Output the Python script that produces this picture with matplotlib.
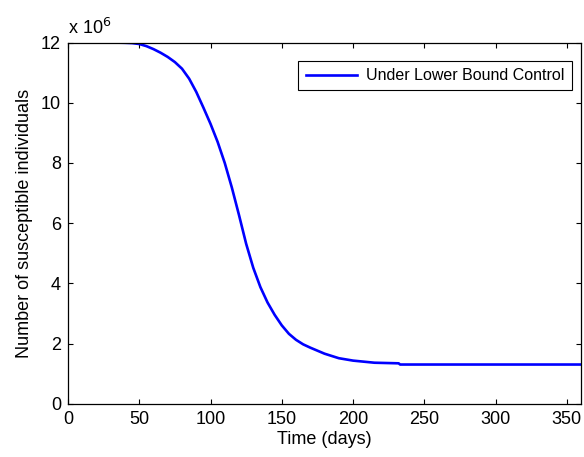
import matplotlib
matplotlib.use("Agg")
import matplotlib.pyplot as plt

plt.rcParams['font.family'] = ['Liberation Sans', 'DejaVu Sans']

# Time in days, susceptible individuals in millions (axis shows x 10^6)
days = [0, 30, 40, 45, 50, 55, 60, 65, 70, 75, 80, 85, 90, 95, 100, 105, 110, 115,
        120, 125, 130, 135, 140, 145, 150, 155, 160, 165, 170, 180, 190, 200, 215,
        232, 233, 360]
susceptible_millions = [12.0, 12.0, 11.99, 11.98, 11.95, 11.88, 11.78, 11.66, 11.52,
                        11.35, 11.13, 10.8, 10.36, 9.84, 9.3, 8.7, 8.0, 7.18,
                        6.27, 5.32, 4.52, 3.88, 3.37, 2.96, 2.61, 2.33, 2.13, 1.98, 1.87,
                        1.67, 1.52, 1.44, 1.37, 1.35, 1.31, 1.31]
series_label = "Under Lower Bound Control"
x_ticks = [0, 50, 100, 150, 200, 250, 300, 350]
y_ticks = [0, 2, 4, 6, 8, 10, 12]

fig = plt.figure(figsize=(5.84, 4.57), dpi=100)
ax = fig.add_axes([0.1164, 0.116, 0.8786, 0.791])
ax.plot(days, susceptible_millions, color=(0, 0, 1), linewidth=1.9, label=series_label)
ax.set_xlim(0, 360)
ax.set_ylim(0, 12)
ax.set_xticks(x_ticks)
ax.set_yticks(y_ticks)
ax.tick_params(direction='in', top=True, right=True, labelsize=13, length=3.6, width=0.8)
ax.tick_params(axis='x', pad=5)
ax.tick_params(axis='y', pad=5)
for s in ax.spines.values():
    s.set_linewidth(0.9)
ax.set_xlabel("Time (days)", fontsize=13, labelpad=2)
ax.set_ylabel("Number of susceptible individuals", fontsize=13, labelpad=6)
ax.text(0.0, 1.012, r"x 10$^{6}$", transform=ax.transAxes, fontsize=13, ha='left', va='bottom')
leg = ax.legend(loc='upper right', bbox_to_anchor=(0.982, 0.949), borderaxespad=0,
                fontsize=11.5, fancybox=False, edgecolor='black', framealpha=1,
                handlelength=3.2, borderpad=0.45, handletextpad=0.6)
leg.get_frame().set_linewidth(0.8)
fig.savefig("out.png", dpi=100)
